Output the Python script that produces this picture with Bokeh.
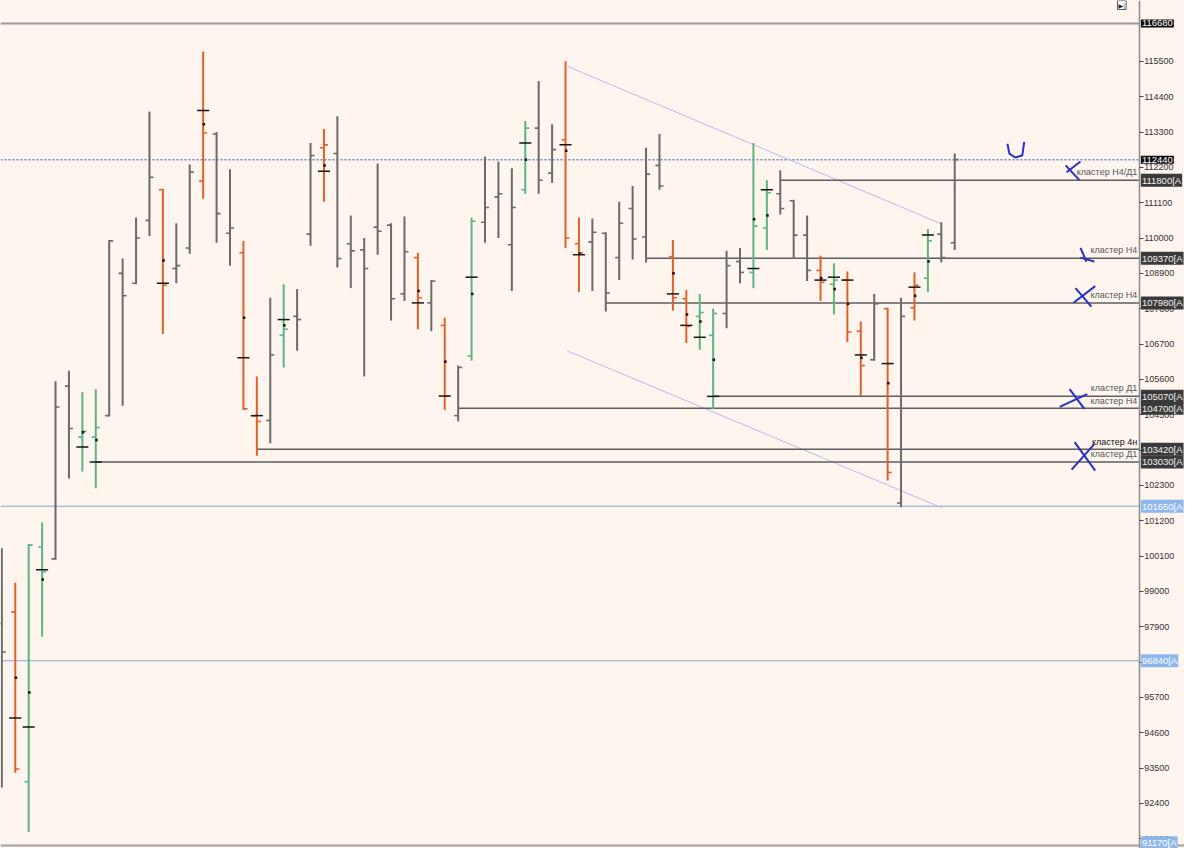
from bokeh.plotting import figure
from bokeh.models import Range1d, FixedTicker, Label, Span, NumeralTickFormatter
from bokeh.embed import file_html
from bokeh.resources import INLINE
import numpy as np

# ---------------- data ----------------
opens = [98000, 98360, 93070, 100380, 100010, 105390, 103800, 103800, 104470, 108900,
         108590, 110550, 111500, 109050, 109690, 111770, 113240, 110150, 109540, 104470,
         104320, 106970, 107560, 110120, 112810, 112630, 109820, 109630, 110340, 110400,
         108260, 109390, 107980, 107280, 104470, 106330, 110490, 111280, 109790, 111500,
         113420, 112020, 113060, 109820, 109880, 110150, 109390, 110920, 110030, 112260,
         109420, 108110, 107560, 106970, 107650, 109270, 108930, 110310, 111380, 111160,
         110090, 108990, 108560, 108690, 107100, 106210, 107800, 101750, 107830, 108750,
         110120, 109850]
highs = [100340, 99270, 100470, 101140, 105540, 105870, 105200, 105290, 109940, 109360,
         110640, 113940, 111530, 110460, 112290, 115810, 113300, 112140, 109910, 105690,
         108140, 108560, 108410, 112960, 113390, 113790, 110700, 110000, 112320, 110460,
         110670, 109540, 108690, 107520, 106030, 110640, 112540, 112380, 112170, 113640,
         114890, 113540, 115500, 110640, 110610, 110180, 111130, 111620, 112810, 113240,
         109940, 108380, 108260, 107800, 109600, 109690, 112960, 111800, 112110, 111190,
         110700, 109450, 109210, 108960, 107400, 108260, 107830, 108140, 108930, 110280,
         110490, 112630]
lows = [92890, 93350, 91510, 97590, 99990, 102510, 102730, 102210, 104440, 104780,
        108560, 110060, 107010, 108590, 109510, 111220, 109850, 109140, 104650, 103220,
        103610, 105970, 106490, 109760, 111130, 109080, 108440, 105690, 109480, 107430,
        108040, 107160, 107100, 104650, 104290, 106180, 109850, 110000, 108350, 111380,
        111380, 111710, 109690, 108320, 108350, 107710, 108690, 109330, 109240, 111500,
        107740, 106730, 106520, 104680, 107190, 108590, 108440, 109630, 110730, 109360,
        108660, 108040, 107620, 106760, 105080, 106180, 102450, 101620, 107430, 108320,
        109240, 109630]
closes = [97110, 93470, 100440, 99610, 104740, 104070, 103980, 104100, 109910, 108200,
          110000, 111890, 108530, 109140, 112050, 113270, 110760, 110310, 104680, 104290,
          106360, 107160, 107460, 112570, 112900, 109360, 109600, 109050, 110210, 108110,
          109570, 108140, 108660, 105080, 105970, 110520, 110950, 111380, 110950, 113420,
          111800, 112750, 110000, 109540, 110180, 108290, 110460, 109970, 111990, 111620,
          108140, 107250, 107680, 107650, 109140, 108930, 110370, 111410, 110920, 110090,
          108990, 108620, 108690, 107070, 106030, 107950, 102700, 107560, 108530, 109910,
          109390, 112440]
kinds = ["n", "o", "g", "g", "n", "n", "g", "g", "n", "n",
         "n", "n", "o", "n", "n", "o", "n", "n", "o", "o",
         "n", "g", "n", "n", "o", "n", "n", "n", "n", "n",
         "n", "o", "n", "o", "n", "g", "n", "n", "n", "g",
         "n", "n", "o", "o", "n", "n", "n", "n", "n", "n",
         "o", "o", "g", "g", "n", "n", "g", "g", "n", "n",
         "n", "o", "g", "o", "o", "n", "o", "n", "o", "g",
         "n", "n"]

poc_idx = [1, 2, 3, 6, 7, 12, 15, 18, 19, 21, 24, 31, 33, 35, 39, 42, 43, 50, 51, 52,
           53, 56, 57, 61, 62, 63, 64, 66, 68, 69]
poc_val = [95060, 94780, 99670, 103490, 103030, 108590, 113970, 106270, 104470, 107460,
           112080, 107980, 105080, 108780, 112960, 112900, 109480, 108260, 107280, 106910,
           105070, 109050, 111500, 108690, 108780, 108690, 106360, 106090, 108470, 110090]
dot_idx = [1, 2, 3, 6, 7, 12, 15, 18, 21, 24, 31, 33, 35, 39, 42, 43, 50, 51, 52, 53,
           56, 57, 61, 62, 63, 64, 66, 68, 69]
dot_val = [96310, 95850, 99370, 103950, 103710, 109300, 113540, 107520, 107280, 112260,
           108350, 106150, 108260, 112440, 112720, 109510, 108900, 107620, 107400, 106210,
           110580, 110700, 108750, 108410, 107950, 106270, 105480, 108200, 109270]

level_price = [111800, 109370, 107980, 105070, 104700, 103420, 103030]
level_start = [58, 48, 45, 53, 34, 19, 7]

gray_line = 116680
dotted_line = 112440
blue_lines = [101650, 96840]

trend_x = [[42.13, 70.07], [42.13, 70.07]]
trend_y = [[115347, 110428], [106486, 101597]]

axis_ticks = [91300, 92400, 93500, 94600, 95700, 96800, 97900, 99000, 100100, 101200,
              102300, 103400, 104500, 105600, 106700, 107800, 108900, 110000, 111100,
              112200, 113300, 114400, 115500]

badge_text = ["116680", "112440", "111800[A", "109370[A", "107980[A", "105070[A",
              "104700[A", "103420[A", "103030[A", "101650[A", "96840[A", "91170[A"]
badge_price = [116680, 112440, 111800, 109370, 107980, 105070, 104700, 103420, 103030,
               101650, 96840, 91170]
badge_kind = ["k", "k", "d", "d", "d", "d", "d", "d", "d", "b", "b", "b"]

note_text = ["кластер Н4/Д1", "кластер Н4", "кластер Н4", "кластер Д1", "кластер Н4",
             "кластер 4н", "кластер Д1"]
note_price = [112050, 109630, 108230, 105320, 104930, 103640, 103280]

pen_xs = [[74.93, 75.07, 75.51, 76.03, 76.18],
          [80.37, 79.34], [79.26, 80.29],
          [80.37, 80.81], [80.37, 81.40],
          [80.00, 81.18], [81.47, 79.85],
          [79.56, 80.66], [80.88, 78.82],
          [79.93, 81.47], [81.40, 79.71]]
pen_ys = [[112933, 112628, 112505, 112567, 112994],
          [112383, 112047], [112261, 111803],
          [109694, 109267], [109389, 109267],
          [108442, 107861], [108503, 107984],
          [105294, 104683], [105142, 104744],
          [103644, 102757], [103583, 102788]]

# ---------------- styling ----------------
BG = "#fdf5ee"
COL = {"n": "#6a6a6a", "o": "#e0612b", "g": "#5db47e"}
FONT = "Liberation Sans"

X_AXIS = 84.75      # where the price scale sits
X_END = 88.12       # canvas right edge

p = figure(width=1184, height=848, x_range=Range1d(-0.1, X_END),
           y_range=Range1d(90994, 117394), output_backend="svg",
           toolbar_location=None, x_axis_location=None, y_axis_location="right",
           min_border_left=0, min_border_top=0, min_border_bottom=0,
           min_border_right=0, background_fill_color=BG, border_fill_color=BG,
           outline_line_color=None)
p.grid.visible = False

ax = p.yaxis[0]
ax.fixed_location = X_AXIS
ax.ticker = FixedTicker(ticks=axis_ticks)
ax.formatter = NumeralTickFormatter(format="0")
ax.axis_line_color = "#8c8c8c"
ax.axis_line_width = 1.5
ax.major_tick_line_color = "#444444"
ax.major_tick_out = 4
ax.major_tick_in = 0
ax.minor_tick_line_color = None
ax.major_label_standoff = 1
ax.major_label_text_font = FONT
ax.major_label_text_font_size = "9px"
ax.major_label_text_color = "#333333"

# reference lines (plot area only)
p.segment(x0=[-0.1], y0=[gray_line], x1=[X_AXIS], y1=[gray_line],
          line_color="#9a9a9a", line_width=2)
p.segment(x0=[-0.1], y0=[dotted_line], x1=[X_AXIS], y1=[dotted_line],
          line_color="#6a84c4", line_width=1.5, line_dash="2 2")
p.segment(x0=[-0.1] * len(blue_lines), y0=blue_lines, x1=[X_AXIS] * len(blue_lines),
          y1=blue_lines, line_color="#88a6d6", line_width=1)
p.add_layout(Span(location=91090, dimension="width", line_color="#a0a0a0", line_width=2))

# trend channel
p.multi_line(trend_x, trend_y, line_color="#bdb8ea", line_width=1)

# cluster levels
p.segment(x0=level_start, y0=level_price, x1=[X_AXIS] * len(level_start), y1=level_price,
          line_color="#5e5e5e", line_width=1.5)

# OHLC bars
idx = np.arange(len(opens))
cols = [COL[k] for k in kinds]
p.segment(x0=idx, y0=lows, x1=idx, y1=highs, line_color=cols, line_width=2)
p.segment(x0=idx - 0.3, y0=opens, x1=idx, y1=opens, line_color=cols, line_width=1.6)
p.segment(x0=idx, y0=closes, x1=idx + 0.3, y1=closes, line_color=cols, line_width=1.6)

pi = np.array(poc_idx)
p.segment(x0=pi - 0.45, y0=poc_val, x1=pi + 0.45, y1=poc_val, line_color="#151515",
          line_width=1.5)
p.scatter(x=np.array(dot_idx) + 0.05, y=dot_val, marker="square", size=2.5,
          fill_color="#111111", line_color=None)

# hand drawn marks
p.multi_line(pen_xs, pen_ys, line_color="#2a2fc6", line_width=2)

# notes
for t, y in zip(note_text, note_price):
    bold = t == "кластер 4н"
    p.add_layout(Label(x=X_AXIS - 0.15, y=y, text=t, text_align="right",
                       text_baseline="middle", text_font=FONT, text_font_size="9px",
                       text_color="#111111" if bold else "#555555"))

# price badges
BADGE = {"k": ("#0b0b0b", "#ffffff"), "d": ("#3a3a3a", "#f2f2f2"), "b": ("#8db6ec", "#ffffff")}
for t, y, k in zip(badge_text, badge_price, badge_kind):
    bg, fg = BADGE[k]
    p.add_layout(Label(x=X_AXIS + 0.12, y=y, text=t, text_align="left",
                       text_baseline="middle", text_font=FONT, text_font_size="9.5px",
                       text_color=fg, background_fill_color=bg, padding=1))

# small toolbar button at the top of the chart
p.add_layout(Label(x=83.45, y=117394, text="▶|", text_align="center", text_baseline="top",
                   text_font="DejaVu Sans", text_font_size="6px", text_color="#222222",
                   background_fill_color="#ffffff", border_line_color="#555555",
                   padding=1))

open("out.html", "w").write(file_html(p, INLINE))
